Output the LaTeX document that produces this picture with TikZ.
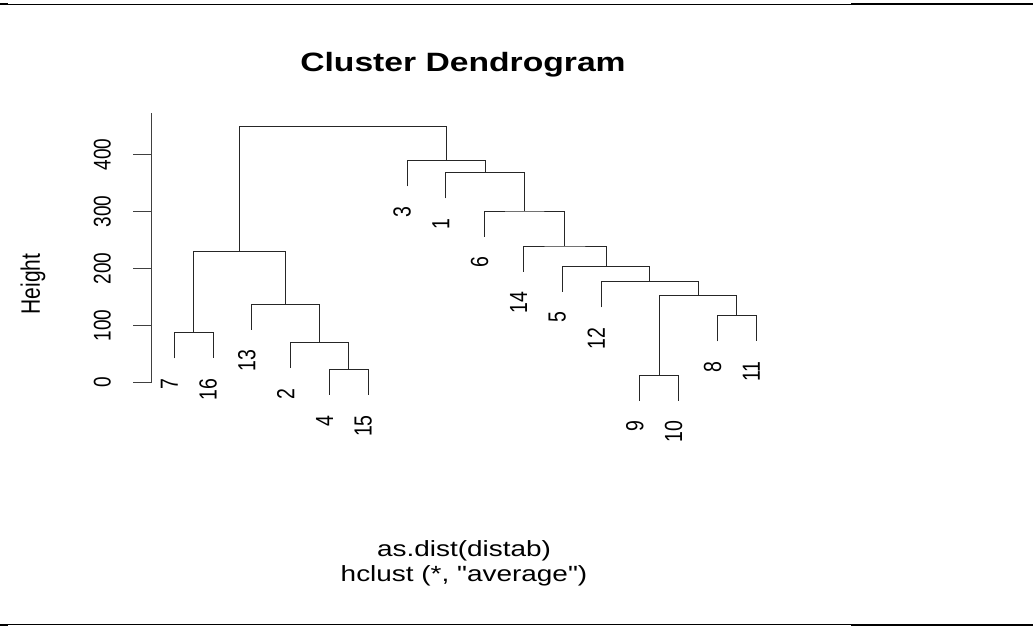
\documentclass[tikz,border=0pt]{standalone}
\usepackage{fontspec}
\setmainfont{Liberation Sans}
\usepackage{graphicx}
\newcommand{\wide}[1]{\scalebox{1.27}[1]{#1}}
\newcommand{\upright}[1]{\scalebox{1.27}[1]{\rotatebox{90}{#1}}}
\tikzset{
  tree/.style={line width=0.9pt, black!85},
  axisline/.style={line width=0.9pt, black!75},
  leaflabel/.style={anchor=north, inner sep=0pt, xshift=-5pt, yshift=-20pt,
    font=\fontsize{19.5}{22}\selectfont},
  ticklabel/.style={anchor=east, inner sep=0pt, font=\fontsize{19}{22}\selectfont},
  frameline/.style={line width=1pt, black}
}

\begin{document}
\begin{tikzpicture}[x=1pt,y=1pt]
  \useasboundingbox (0,0) rectangle (1033,629);
  \coordinate (tl) at (0,624.5);
  \coordinate (tm) at (851,624.5);
  \coordinate (tr) at (1033,624.5);
  \coordinate (bl) at (0,4.5);
  \coordinate (bm) at (851,4.5);
  \coordinate (br) at (1033,4.5);
  \draw[frameline] (tl) -- (tr);
  \draw[frameline] (bl) -- (br);
  \draw[frameline, line width=2pt] (tm) -- (tr);
  \draw[frameline, line width=2pt] (bm) -- (br);
  \draw[frameline, line width=2pt] (tl) -- ++(8,0);
  \draw[frameline, line width=2pt] (bl) -- ++(8,0);

  \node[font=\bfseries\fontsize{26.5}{30}\selectfont, anchor=base] (title) at (463,557.3) {\wide{Cluster Dendrogram}};
  \node[font=\fontsize{21}{24}\selectfont] (ylab) at (33,345) {\upright{Height}};
  \node[font=\fontsize{22}{24}\selectfont, anchor=base] (xlab) at (464,72) {\wide{as.dist(distab)}};
  \node[font=\fontsize{22}{24}\selectfont, anchor=base] (sub) at (464,48) {\wide{hclust (*, \textquotedbl average\textquotedbl)}};

  \begin{scope}[shift={(0,246.3)}, y=0.571pt]
    \coordinate (ax0) at (151.5,0);
    \coordinate (axtop) at (151.5,472);
    \draw[axisline] (ax0) -- (axtop);
    \foreach \v in {0,100,...,400} {
      \coordinate (k\v) at (151.5,\v);
      \draw[axisline] (k\v) -- ++(-18.5,0);
      \node[ticklabel] (t\v) at (111,\v) {\upright{\v}};
    }
  \end{scope}

  \begin{scope}[shift={(135.5,246.3)}, x=38.8pt, y=0.571pt]
    \coordinate (l7) at (1,42.6);
    \coordinate (l16) at (2,42.6);
    \coordinate (l13) at (3,92.8);
    \coordinate (l2) at (4,25.7);
    \coordinate (l4) at (5,-21.5);
    \coordinate (l15) at (6,-21.5);
    \coordinate (l3) at (7,343.8);
    \coordinate (l1) at (8,322.8);
    \coordinate (l6) at (9,255.7);
    \coordinate (l14) at (10,194.4);
    \coordinate (l5) at (11,159.4);
    \coordinate (l12) at (12,131.9);
    \coordinate (l9) at (13,-31.5);
    \coordinate (l10) at (14,-31.5);
    \coordinate (l8) at (15,72.3);
    \coordinate (l11) at (16,72.3);

    \coordinate (ma) at (1.5,87.6);
    \coordinate (mb) at (5.5,23.5);
    \coordinate (mc) at (4.75,70.7);
    \coordinate (md) at (3.875,137.8);
    \coordinate (me) at (2.6875,229);
    \coordinate (mf) at (13.5,13.5);
    \coordinate (mg) at (15.5,117.3);
    \coordinate (mh) at (14.5,152.4);
    \coordinate (mi) at (13.25,176.9);
    \coordinate (mj) at (12.125,204.4);
    \coordinate (mk) at (11.0625,239.4);
    \coordinate (ml) at (10.03,300.7);
    \coordinate (mm) at (9.016,367.8);
    \coordinate (mn) at (8.008,388.8);
    \coordinate (mtop) at (5.35,449.5);

    \draw[tree] (l7) |- (ma) -| (l16);
    \draw[tree] (l4) |- (mb) -| (l15);
    \draw[tree] (l2) |- (mc) -| (mb);
    \draw[tree] (l13) |- (md) -| (mc);
    \draw[tree] (ma) |- (me) -| (md);
    \draw[tree] (l9) |- (mf) -| (l10);
    \draw[tree] (l8) |- (mg) -| (l11);
    \draw[tree] (mf) |- (mh) -| (mg);
    \draw[tree] (l12) |- (mi) -| (mh);
    \draw[tree] (l5) |- (mj) -| (mi);
    \draw[tree] (l14) |- (mk) -| (mj);
    \draw[tree] (l6) |- (ml) -| (mk);
    \draw[tree] (l1) |- (mm) -| (ml);
    \draw[tree] (l3) |- (mn) -| (mm);
    \draw[tree] (me) |- (mtop) -| (mn);

    \node[leaflabel] (n7) at (l7) {\upright{7}};
    \node[leaflabel] (n16) at (l16) {\upright{16}};
    \node[leaflabel] (n13) at (l13) {\upright{13}};
    \node[leaflabel] (n2) at (l2) {\upright{2}};
    \node[leaflabel] (n4) at (l4) {\upright{4}};
    \node[leaflabel] (n15) at (l15) {\upright{15}};
    \node[leaflabel] (n3) at (l3) {\upright{3}};
    \node[leaflabel] (n1) at (l1) {\upright{1}};
    \node[leaflabel] (n6) at (l6) {\upright{6}};
    \node[leaflabel] (n14) at (l14) {\upright{14}};
    \node[leaflabel] (n5) at (l5) {\upright{5}};
    \node[leaflabel] (n12) at (l12) {\upright{12}};
    \node[leaflabel] (n9) at (l9) {\upright{9}};
    \node[leaflabel] (n10) at (l10) {\upright{10}};
    \node[leaflabel] (n8) at (l8) {\upright{8}};
    \node[leaflabel] (n11) at (l11) {\upright{11}};
  \end{scope}
\end{tikzpicture}
\end{document}
